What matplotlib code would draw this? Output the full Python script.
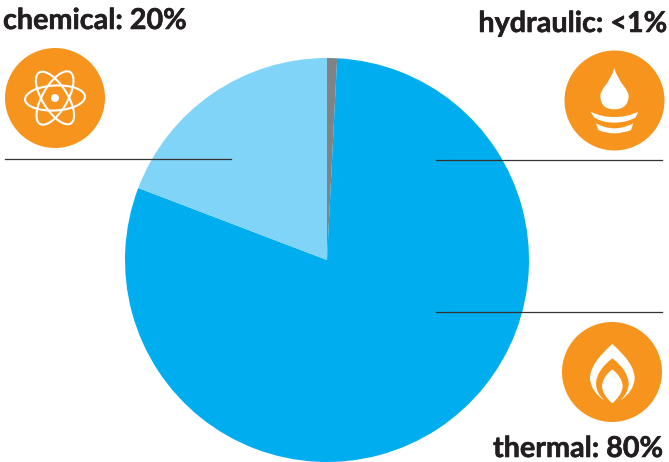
import matplotlib
matplotlib.use('Agg')
from matplotlib import pyplot as plt
from matplotlib import patheffects
from matplotlib.patches import Circle, Ellipse, PathPatch
from matplotlib.path import Path

W, H = 669, 462

# slices clockwise from 12 o'clock
sources = ['hydraulic', 'thermal', 'chemical']
shares = [0.8, 80.0, 19.2]
slice_colors = ['#808285', '#00AEEF', '#80D4F8']

labels = ['chemical: 20%', 'hydraulic: <1%', 'thermal: 80%']

ORANGE = '#F7941E'
DARK = '#231F20'


def fy(y):
    # picture pixels are counted from the top
    return H - y


def shape(points, origin):
    # points come from a 3x crop, origin is the crop corner
    # each item is a move/line point (x, y) or a curve (cx, cy, ex, ey)
    verts, codes = [], []
    for i, p in enumerate(points):
        if len(p) == 2:
            verts.append((origin[0] + p[0] / 3, fy(origin[1] + p[1] / 3)))
            codes.append(Path.MOVETO if i == 0 else Path.LINETO)
        else:
            verts.append((origin[0] + p[0] / 3, fy(origin[1] + p[1] / 3)))
            verts.append((origin[0] + p[2] / 3, fy(origin[1] + p[3] / 3)))
            codes += [Path.CURVE3, Path.CURVE3]
    return PathPatch(Path(verts, codes), facecolor='white', edgecolor='none', zorder=5)


fig = plt.figure(figsize=(W / 100, H / 100), dpi=100)
ax = fig.add_axes([0, 0, 1, 1])

ax.pie(shares, colors=slice_colors, startangle=90, counterclock=False,
       center=(327, fy(260)), radius=202, wedgeprops={'linewidth': 0})
ax.set_xlim(0, W)
ax.set_ylim(0, H)
ax.set_aspect('equal')
ax.axis('off')

# leader lines
ax.plot([5, 231], [fy(158.5), fy(158.5)], color='#333333', lw=0.9, zorder=3)
ax.plot([436, 662], [fy(159.5), fy(159.5)], color='#333333', lw=0.9, zorder=3)
ax.plot([436, 662], [fy(312), fy(312)], color='#333333', lw=0.9, zorder=3)

# icon discs
for cx, cy in [(55, 98), (614.5, 100.5), (612, 372)]:
    ax.add_patch(Circle((cx, fy(cy)), 50, facecolor=ORANGE, edgecolor='none', zorder=4))

# atom
for angle in [3, 60, 122]:
    ax.add_patch(Ellipse((55, fy(98)), 60, 25, angle=angle, facecolor='none',
                         edgecolor='white', lw=1.5, zorder=5))
ax.add_patch(Circle((55, fy(98)), 4, facecolor='white', edgecolor='none', zorder=5))

# water drop and waves
o = (470, 0)
ax.add_patch(shape([(433, 205), (425, 232, 405, 258), (391, 275, 391, 290),
                    (393, 328, 433, 328), (473, 328, 476, 290),
                    (476, 275, 461, 258), (441, 232, 433, 205)], o))
ax.add_patch(shape([(362, 335), (395, 352, 433, 351), (471, 352, 505, 335), (497, 352),
                    (470, 368, 433, 368), (396, 368, 372, 352)], o))
ax.add_patch(shape([(378, 370), (405, 385, 433, 385), (461, 385, 490, 370), (483, 390),
                    (460, 400, 433, 400), (406, 400, 385, 390)], o))

# flame
o = (470, 300)
ax.add_patch(shape([(427, 132), (360, 190, 360, 235), (362, 275, 405, 303),
                    (378, 280, 378, 250), (380, 210, 427, 175),
                    (474, 210, 476, 250), (476, 280, 449, 303),
                    (492, 275, 494, 235), (494, 190, 427, 132)], o))
ax.add_patch(shape([(427, 208), (396, 232, 396, 260), (398, 285, 427, 310),
                    (456, 285, 458, 260), (458, 232, 427, 208)], o))

# labels
font = dict(family='Lato', fontweight='bold', fontsize=20.7, color=DARK,
            path_effects=[patheffects.withStroke(linewidth=0.4, foreground=DARK)])
ax.text(3, fy(29), labels[0], ha='left', va='baseline', **font)
ax.text(667, fy(32), labels[1], ha='right', va='baseline', **font)
ax.text(663, fy(457), labels[2], ha='right', va='baseline', **font)

fig.savefig('out.png', dpi=100)
